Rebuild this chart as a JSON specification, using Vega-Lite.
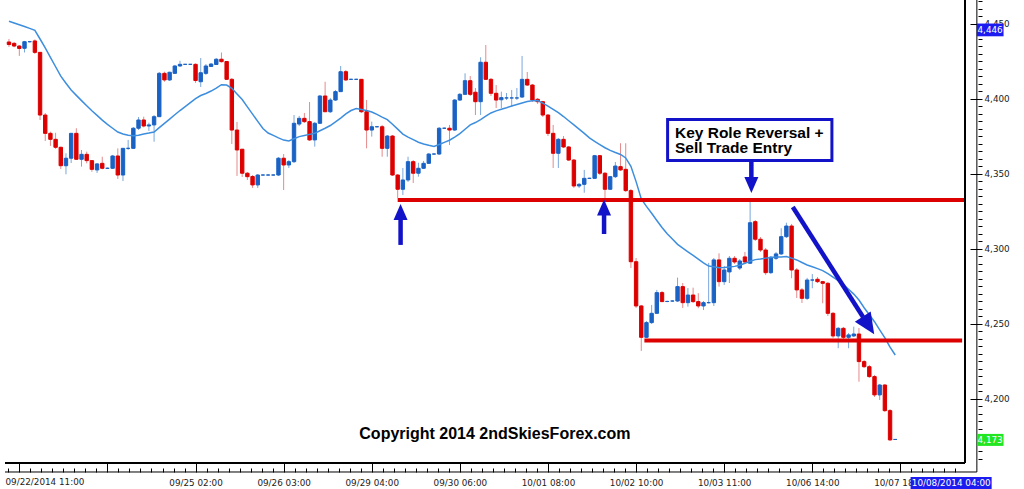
{
"$schema":"https://vega.github.io/schema/vega-lite/v6.json",
"width":970,"height":463,"autosize":"none",
"padding":{"left":0,"top":0,"right":54,"bottom":26},
"background":"#ffffff",
"config":{"view":{"stroke":null},"axis":{"labelFont":"DejaVu Sans","labelFontSize":8.8,"labelColor":"#222222","tickColor":"#000000","grid":false,"domain":false,"labelOverlap":false,"labelBound":false}},
"resolve":{"axis":{"x":"independent","y":"independent"}},
"datasets":{"candles":[
{"i":0,"o":4438.0,"h":4440.0,"l":4434.7,"c":4436.3,"e":4451.8},
{"i":1,"o":4437.1,"h":4438.0,"l":4434.5,"c":4435.3,"e":4450.7},
{"i":2,"o":4435.3,"h":4436.0,"l":4428.7,"c":4433.7,"e":4449.5},
{"i":3,"o":4433.8,"h":4438.7,"l":4431.0,"c":4438.2,"e":4448.3},
{"i":4,"o":4438.2,"h":4438.7,"l":4437.7,"c":4438.2,"e":4447.1},
{"i":5,"o":4438.7,"h":4439.7,"l":4430.0,"c":4431.1,"e":4445.8},
{"i":6,"o":4431.1,"h":4431.3,"l":4386.0,"c":4389.3,"e":4440.0},
{"i":7,"o":4389.3,"h":4390.7,"l":4372.0,"c":4377.1,"e":4434.0},
{"i":8,"o":4377.1,"h":4378.2,"l":4368.7,"c":4373.1,"e":4427.8},
{"i":9,"o":4373.1,"h":4377.5,"l":4366.7,"c":4367.8,"e":4421.5},
{"i":10,"o":4367.8,"h":4368.2,"l":4353.3,"c":4355.5,"e":4415.2},
{"i":11,"o":4355.5,"h":4363.8,"l":4349.8,"c":4360.5,"e":4410.5},
{"i":12,"o":4360.5,"h":4377.3,"l":4357.3,"c":4377.1,"e":4406.0},
{"i":13,"o":4377.1,"h":4380.5,"l":4359.3,"c":4359.8,"e":4402.4},
{"i":14,"o":4359.8,"h":4366.0,"l":4354.9,"c":4363.1,"e":4398.9},
{"i":15,"o":4363.1,"h":4364.9,"l":4357.1,"c":4358.9,"e":4395.5},
{"i":16,"o":4358.9,"h":4359.3,"l":4351.5,"c":4353.1,"e":4392.2},
{"i":17,"o":4352.7,"h":4357.3,"l":4350.7,"c":4356.7,"e":4389.1},
{"i":18,"o":4357.1,"h":4361.5,"l":4353.1,"c":4353.8,"e":4385.9},
{"i":19,"o":4353.8,"h":4354.3,"l":4353.3,"c":4353.8,"e":4383.1},
{"i":20,"o":4353.8,"h":4362.7,"l":4353.3,"c":4362.0,"e":4380.5},
{"i":21,"o":4362.0,"h":4367.1,"l":4346.7,"c":4349.3,"e":4378.0},
{"i":22,"o":4349.3,"h":4367.3,"l":4345.3,"c":4367.1,"e":4376.7},
{"i":23,"o":4367.1,"h":4372.7,"l":4366.0,"c":4367.1,"e":4375.9},
{"i":24,"o":4367.1,"h":4381.3,"l":4366.7,"c":4380.5,"e":4375.5},
{"i":25,"o":4380.5,"h":4388.0,"l":4379.3,"c":4386.0,"e":4375.9},
{"i":26,"o":4386.0,"h":4388.2,"l":4381.1,"c":4382.0,"e":4376.7},
{"i":27,"o":4382.0,"h":4384.2,"l":4378.7,"c":4382.7,"e":4377.3},
{"i":28,"o":4382.7,"h":4389.3,"l":4371.5,"c":4388.2,"e":4378.0},
{"i":29,"o":4388.2,"h":4418.0,"l":4388.0,"c":4417.1,"e":4380.9},
{"i":30,"o":4417.1,"h":4418.2,"l":4411.5,"c":4412.7,"e":4383.7},
{"i":31,"o":4412.7,"h":4418.2,"l":4412.0,"c":4417.8,"e":4386.6},
{"i":32,"o":4417.1,"h":4422.7,"l":4416.7,"c":4422.0,"e":4389.5},
{"i":33,"o":4422.0,"h":4425.5,"l":4421.5,"c":4423.1,"e":4392.3},
{"i":34,"o":4423.1,"h":4423.3,"l":4422.7,"c":4423.1,"e":4394.9},
{"i":35,"o":4423.1,"h":4423.3,"l":4422.7,"c":4423.1,"e":4397.6},
{"i":36,"o":4423.1,"h":4423.7,"l":4410.7,"c":4412.3,"e":4400.3},
{"i":37,"o":4411.5,"h":4427.3,"l":4408.0,"c":4417.5,"e":4402.3},
{"i":38,"o":4417.1,"h":4423.3,"l":4416.0,"c":4422.0,"e":4403.7},
{"i":39,"o":4421.7,"h":4424.0,"l":4421.3,"c":4423.3,"e":4405.3},
{"i":40,"o":4423.0,"h":4427.3,"l":4422.7,"c":4426.5,"e":4407.3},
{"i":41,"o":4426.5,"h":4431.0,"l":4424.3,"c":4424.9,"e":4409.5},
{"i":42,"o":4425.0,"h":4425.3,"l":4412.7,"c":4413.1,"e":4409.3},
{"i":43,"o":4413.1,"h":4414.0,"l":4370.0,"c":4379.3,"e":4407.1},
{"i":44,"o":4379.3,"h":4384.7,"l":4348.7,"c":4366.0,"e":4403.3},
{"i":45,"o":4366.5,"h":4366.7,"l":4348.0,"c":4350.5,"e":4399.6},
{"i":46,"o":4350.5,"h":4351.3,"l":4346.0,"c":4348.2,"e":4394.7},
{"i":47,"o":4348.3,"h":4349.3,"l":4340.7,"c":4342.7,"e":4389.9},
{"i":48,"o":4342.7,"h":4350.0,"l":4340.7,"c":4349.3,"e":4385.1},
{"i":49,"o":4349.3,"h":4349.7,"l":4349.0,"c":4349.3,"e":4380.3},
{"i":50,"o":4349.3,"h":4349.7,"l":4349.0,"c":4349.3,"e":4377.3},
{"i":51,"o":4349.3,"h":4349.7,"l":4349.0,"c":4349.3,"e":4375.7},
{"i":52,"o":4349.3,"h":4361.3,"l":4348.7,"c":4360.5,"e":4374.1},
{"i":53,"o":4360.5,"h":4363.3,"l":4339.3,"c":4356.0,"e":4372.6},
{"i":54,"o":4356.0,"h":4359.3,"l":4354.0,"c":4358.2,"e":4372.0},
{"i":55,"o":4358.2,"h":4389.3,"l":4357.3,"c":4383.8,"e":4373.5},
{"i":56,"o":4383.3,"h":4388.7,"l":4382.0,"c":4387.1,"e":4374.9},
{"i":57,"o":4387.1,"h":4390.7,"l":4384.0,"c":4384.9,"e":4375.7},
{"i":58,"o":4384.9,"h":4398.0,"l":4372.0,"c":4372.7,"e":4376.4},
{"i":59,"o":4372.7,"h":4384.7,"l":4368.2,"c":4383.8,"e":4377.1},
{"i":60,"o":4383.8,"h":4402.7,"l":4383.3,"c":4402.0,"e":4378.8},
{"i":61,"o":4402.0,"h":4411.5,"l":4391.3,"c":4391.5,"e":4380.5},
{"i":62,"o":4391.5,"h":4400.7,"l":4390.7,"c":4399.3,"e":4382.3},
{"i":63,"o":4399.3,"h":4406.0,"l":4398.7,"c":4404.9,"e":4384.7},
{"i":64,"o":4404.9,"h":4422.0,"l":4404.7,"c":4418.2,"e":4387.3},
{"i":65,"o":4418.2,"h":4419.3,"l":4412.0,"c":4412.7,"e":4390.1},
{"i":66,"o":4413.1,"h":4413.5,"l":4412.7,"c":4413.1,"e":4392.3},
{"i":67,"o":4413.1,"h":4413.5,"l":4412.7,"c":4413.1,"e":4393.7},
{"i":68,"o":4413.1,"h":4413.3,"l":4390.7,"c":4391.5,"e":4393.0},
{"i":69,"o":4391.5,"h":4399.3,"l":4367.1,"c":4379.3,"e":4392.3},
{"i":70,"o":4379.3,"h":4384.9,"l":4374.9,"c":4381.5,"e":4391.3},
{"i":71,"o":4381.5,"h":4382.0,"l":4381.0,"c":4381.5,"e":4389.7},
{"i":72,"o":4381.5,"h":4382.7,"l":4361.5,"c":4367.1,"e":4387.9},
{"i":73,"o":4367.1,"h":4376.0,"l":4361.5,"c":4375.3,"e":4386.2},
{"i":74,"o":4375.3,"h":4376.0,"l":4348.7,"c":4349.3,"e":4383.2},
{"i":75,"o":4349.3,"h":4350.0,"l":4334.0,"c":4339.8,"e":4379.9},
{"i":76,"o":4339.8,"h":4354.0,"l":4336.0,"c":4346.0,"e":4376.6},
{"i":77,"o":4346.0,"h":4361.5,"l":4344.7,"c":4358.2,"e":4374.6},
{"i":78,"o":4358.2,"h":4359.3,"l":4344.0,"c":4350.5,"e":4372.9},
{"i":79,"o":4350.5,"h":4357.5,"l":4348.2,"c":4353.8,"e":4371.2},
{"i":80,"o":4353.8,"h":4358.7,"l":4353.3,"c":4357.1,"e":4370.0},
{"i":81,"o":4357.1,"h":4364.0,"l":4356.7,"c":4363.3,"e":4369.1},
{"i":82,"o":4363.3,"h":4363.8,"l":4362.8,"c":4363.3,"e":4368.3},
{"i":83,"o":4363.3,"h":4381.3,"l":4362.7,"c":4380.5,"e":4369.7},
{"i":84,"o":4380.5,"h":4381.0,"l":4380.0,"c":4380.5,"e":4371.1},
{"i":85,"o":4380.5,"h":4382.7,"l":4369.3,"c":4379.3,"e":4372.5},
{"i":86,"o":4379.3,"h":4400.0,"l":4378.7,"c":4399.3,"e":4374.6},
{"i":87,"o":4399.3,"h":4404.0,"l":4398.7,"c":4403.1,"e":4376.9},
{"i":88,"o":4403.1,"h":4417.1,"l":4402.7,"c":4412.2,"e":4379.8},
{"i":89,"o":4412.2,"h":4415.3,"l":4402.0,"c":4403.1,"e":4382.7},
{"i":90,"o":4404.5,"h":4407.3,"l":4389.3,"c":4398.2,"e":4384.3},
{"i":91,"o":4398.2,"h":4427.8,"l":4389.3,"c":4424.5,"e":4386.3},
{"i":92,"o":4424.5,"h":4436.0,"l":4412.7,"c":4413.1,"e":4388.5},
{"i":93,"o":4413.1,"h":4414.0,"l":4402.0,"c":4403.8,"e":4390.7},
{"i":94,"o":4403.8,"h":4409.3,"l":4394.0,"c":4399.3,"e":4392.1},
{"i":95,"o":4399.5,"h":4404.9,"l":4394.0,"c":4400.9,"e":4393.2},
{"i":96,"o":4400.7,"h":4404.0,"l":4399.3,"c":4400.7,"e":4394.2},
{"i":97,"o":4400.7,"h":4406.0,"l":4394.7,"c":4400.7,"e":4395.3},
{"i":98,"o":4400.7,"h":4407.3,"l":4399.3,"c":4400.7,"e":4396.3},
{"i":99,"o":4401.3,"h":4428.7,"l":4400.7,"c":4413.1,"e":4397.3},
{"i":100,"o":4413.1,"h":4418.0,"l":4408.7,"c":4409.3,"e":4398.3},
{"i":101,"o":4409.3,"h":4410.0,"l":4398.0,"c":4399.3,"e":4398.9},
{"i":102,"o":4399.8,"h":4400.7,"l":4396.7,"c":4398.2,"e":4399.0},
{"i":103,"o":4398.2,"h":4398.7,"l":4388.0,"c":4389.3,"e":4397.2},
{"i":104,"o":4389.3,"h":4390.0,"l":4375.3,"c":4377.1,"e":4395.3},
{"i":105,"o":4377.1,"h":4382.7,"l":4354.0,"c":4363.8,"e":4393.1},
{"i":106,"o":4363.8,"h":4374.0,"l":4354.0,"c":4373.1,"e":4390.9},
{"i":107,"o":4373.1,"h":4375.3,"l":4367.3,"c":4368.0,"e":4388.3},
{"i":108,"o":4368.0,"h":4368.7,"l":4358.7,"c":4359.3,"e":4385.5},
{"i":109,"o":4359.3,"h":4360.0,"l":4340.7,"c":4342.0,"e":4382.7},
{"i":110,"o":4342.0,"h":4344.0,"l":4340.7,"c":4343.1,"e":4379.9},
{"i":111,"o":4343.1,"h":4352.7,"l":4337.5,"c":4347.1,"e":4377.1},
{"i":112,"o":4347.1,"h":4347.5,"l":4346.7,"c":4347.1,"e":4374.1},
{"i":113,"o":4347.1,"h":4362.7,"l":4346.7,"c":4362.2,"e":4371.7},
{"i":114,"o":4362.2,"h":4362.7,"l":4349.3,"c":4350.5,"e":4369.6},
{"i":115,"o":4350.5,"h":4351.3,"l":4333.7,"c":4339.8,"e":4367.5},
{"i":116,"o":4339.8,"h":4348.7,"l":4339.3,"c":4348.2,"e":4365.7},
{"i":117,"o":4348.2,"h":4358.0,"l":4347.3,"c":4355.3,"e":4364.3},
{"i":118,"o":4354.9,"h":4370.5,"l":4352.0,"c":4352.7,"e":4363.0},
{"i":119,"o":4353.1,"h":4370.5,"l":4338.0,"c":4338.9,"e":4360.7},
{"i":120,"o":4338.9,"h":4340.0,"l":4287.3,"c":4291.5,"e":4355.1},
{"i":121,"o":4291.5,"h":4294.0,"l":4260.7,"c":4262.0,"e":4344.9},
{"i":122,"o":4262.0,"h":4262.7,"l":4232.0,"c":4241.1,"e":4333.3},
{"i":123,"o":4241.1,"h":4252.0,"l":4240.7,"c":4250.9,"e":4328.4},
{"i":124,"o":4250.9,"h":4262.7,"l":4250.0,"c":4257.1,"e":4323.8},
{"i":125,"o":4257.1,"h":4272.7,"l":4256.7,"c":4270.9,"e":4319.0},
{"i":126,"o":4270.9,"h":4272.0,"l":4264.7,"c":4264.9,"e":4314.3},
{"i":127,"o":4265.0,"h":4265.5,"l":4264.5,"c":4265.0,"e":4310.1},
{"i":128,"o":4265.3,"h":4265.8,"l":4264.8,"c":4265.3,"e":4306.6},
{"i":129,"o":4265.3,"h":4280.9,"l":4264.7,"c":4274.9,"e":4303.1},
{"i":130,"o":4274.9,"h":4277.3,"l":4260.7,"c":4264.2,"e":4300.5},
{"i":131,"o":4264.2,"h":4274.0,"l":4261.5,"c":4269.3,"e":4298.1},
{"i":132,"o":4269.3,"h":4274.2,"l":4264.0,"c":4264.9,"e":4295.8},
{"i":133,"o":4264.9,"h":4270.5,"l":4260.5,"c":4262.0,"e":4293.3},
{"i":134,"o":4262.0,"h":4265.3,"l":4259.3,"c":4264.2,"e":4290.8},
{"i":135,"o":4264.2,"h":4290.7,"l":4263.7,"c":4264.2,"e":4288.6},
{"i":136,"o":4264.2,"h":4294.0,"l":4262.0,"c":4292.7,"e":4288.1},
{"i":137,"o":4292.7,"h":4297.1,"l":4274.9,"c":4278.2,"e":4287.5},
{"i":138,"o":4278.2,"h":4288.7,"l":4276.0,"c":4286.0,"e":4287.6},
{"i":139,"o":4284.7,"h":4295.3,"l":4277.3,"c":4293.8,"e":4288.0},
{"i":140,"o":4293.8,"h":4295.3,"l":4290.0,"c":4291.3,"e":4288.4},
{"i":141,"o":4287.3,"h":4293.3,"l":4286.0,"c":4292.0,"e":4289.2},
{"i":142,"o":4294.7,"h":4298.0,"l":4290.0,"c":4291.3,"e":4290.5},
{"i":143,"o":4290.5,"h":4332.7,"l":4290.0,"c":4317.5,"e":4291.8},
{"i":144,"o":4318.2,"h":4319.3,"l":4305.3,"c":4306.5,"e":4292.9},
{"i":145,"o":4306.5,"h":4308.0,"l":4298.0,"c":4299.3,"e":4293.3},
{"i":146,"o":4299.3,"h":4300.7,"l":4282.7,"c":4284.2,"e":4293.9},
{"i":147,"o":4284.2,"h":4295.3,"l":4283.3,"c":4294.5,"e":4294.3},
{"i":148,"o":4293.8,"h":4298.0,"l":4292.7,"c":4296.7,"e":4294.6},
{"i":149,"o":4296.7,"h":4313.8,"l":4296.0,"c":4308.2,"e":4294.7},
{"i":150,"o":4308.2,"h":4317.5,"l":4307.3,"c":4315.3,"e":4294.9},
{"i":151,"o":4315.3,"h":4316.7,"l":4280.5,"c":4286.0,"e":4293.9},
{"i":152,"o":4286.0,"h":4287.3,"l":4267.3,"c":4272.7,"e":4292.7},
{"i":153,"o":4272.7,"h":4274.0,"l":4264.0,"c":4267.1,"e":4291.0},
{"i":154,"o":4267.1,"h":4280.7,"l":4266.0,"c":4279.3,"e":4289.3},
{"i":155,"o":4279.3,"h":4283.3,"l":4273.8,"c":4279.3,"e":4288.1},
{"i":156,"o":4279.8,"h":4281.3,"l":4277.3,"c":4278.2,"e":4286.9},
{"i":157,"o":4278.2,"h":4278.7,"l":4263.8,"c":4277.1,"e":4285.6},
{"i":158,"o":4277.1,"h":4278.0,"l":4255.3,"c":4257.1,"e":4283.5},
{"i":159,"o":4257.1,"h":4258.0,"l":4240.7,"c":4242.0,"e":4281.2},
{"i":160,"o":4242.0,"h":4248.0,"l":4233.8,"c":4247.1,"e":4278.9},
{"i":161,"o":4247.1,"h":4248.0,"l":4240.0,"c":4241.1,"e":4276.3},
{"i":162,"o":4241.1,"h":4244.0,"l":4233.8,"c":4242.7,"e":4273.1},
{"i":163,"o":4242.0,"h":4248.2,"l":4241.3,"c":4243.3,"e":4269.9},
{"i":164,"o":4243.3,"h":4247.3,"l":4211.5,"c":4224.9,"e":4266.0},
{"i":165,"o":4224.9,"h":4226.0,"l":4220.7,"c":4221.5,"e":4260.8},
{"i":166,"o":4221.5,"h":4222.7,"l":4214.0,"c":4214.9,"e":4256.1},
{"i":167,"o":4214.9,"h":4216.0,"l":4201.3,"c":4202.7,"e":4251.5},
{"i":168,"o":4202.7,"h":4210.0,"l":4199.3,"c":4209.3,"e":4246.1},
{"i":169,"o":4209.3,"h":4210.0,"l":4191.3,"c":4192.2,"e":4240.7},
{"i":170,"o":4192.2,"h":4193.3,"l":4172.0,"c":4172.7,"e":4234.5},
{"i":171,"o":4173.0,"h":4173.3,"l":4172.7,"c":4173.0,"e":4229.3}
]},
"layer":[
{"data":{"name":"candles"},"mark":{"type":"rule","strokeWidth":1},
 "encoding":{
  "x":{"field":"i","type":"quantitative","scale":{"domain":[-0.764,184.46],"nice":false,"zero":false},
   "axis":{"title":null,"orient":"bottom","offset":9,"values":[2,19,36,53,70,87,104,121,138,155,172],
    "tickSize":-9,"labelPadding":15,"labelFlush":false,"labelOverlap":false,"labelBound":false,"labelAngle":0,
    "labelExpr":"datum.value == 36 ? '09/25 02:00' : datum.value == 53 ? '09/26 03:00' : datum.value == 70 ? '09/29 04:00' : datum.value == 87 ? '09/30 06:00' : datum.value == 104 ? '10/01 08:00' : datum.value == 121 ? '10/02 10:00' : datum.value == 138 ? '10/03 11:00' : datum.value == 155 ? '10/06 14:00' : datum.value == 172 ? '10/07 18:00' : ''"}},
  "y":{"field":"l","type":"quantitative","scale":{"domain":[4157.3,4466],"nice":false,"zero":false},
   "axis":{"title":null,"orient":"right","offset":12,"values":[4200,4250,4300,4350,4400,4450],
    "tickSize":-12,"labelPadding":14,"labelFlush":false,"labelOverlap":false,"labelBound":false,"labelAlign":"left","labelBaseline":"middle",
    "labelExpr":"format(datum.value, ',.0f')"}},
  "y2":{"field":"h"},
  "color":{"condition":{"test":"datum.c >= datum.o","value":"#7aa7dc"},"value":"#e58a8a"}}},
{"data":{"name":"candles"},"mark":{"type":"bar","size":3.4,"strokeWidth":1},
 "encoding":{
  "x":{"field":"i","type":"quantitative","scale":{"domain":[-0.764,184.46],"nice":false,"zero":false},
   "axis":{"title":null,"orient":"bottom","offset":9,"labels":false,"tickSize":-4,"values":[-0.125,4.125,6.25,8.375,10.5,12.625,14.75,16.875,21.125,23.25,25.375,27.5,29.625,31.75,33.875,38.125,40.25,42.375,44.5,46.625,48.75,50.875,55.125,57.25,59.375,61.5,63.625,65.75,67.875,72.125,74.25,76.375,78.5,80.625,82.75,84.875,89.125,91.25,93.375,95.5,97.625,99.75,101.875,106.125,108.25,110.375,112.5,114.625,116.75,118.875,123.125,125.25,127.375,129.5,131.625,133.75,135.875,140.125,142.25,144.375,146.5,148.625,150.75,152.875,157.125,159.25,161.375,163.5,165.625,167.75,169.875,174.125,176.25,178.375,180.5,182.625]}},
  "y":{"field":"o","type":"quantitative","scale":{"domain":[4157.3,4466],"nice":false,"zero":false},
   "axis":{"title":null,"orient":"right","offset":12,"labels":false,"tickSize":-4,"values":[4160,4165,4170,4175,4180,4185,4190,4195,4205,4210,4215,4220,4225,4230,4235,4240,4245,4255,4260,4265,4270,4275,4280,4285,4290,4295,4305,4310,4315,4320,4325,4330,4335,4340,4345,4355,4360,4365,4370,4375,4380,4385,4390,4395,4405,4410,4415,4420,4425,4430,4435,4440,4445,4455,4460,4465]}},
  "y2":{"field":"c"},
  "color":{"condition":{"test":"datum.c >= datum.o","value":"#1a62c4"},"value":"#dd0000"},
  "stroke":{"condition":{"test":"datum.c >= datum.o","value":"#1a62c4"},"value":"#dd0000"}}},
{"data":{"name":"candles"},"mark":{"type":"line","color":"#3d8ede","strokeWidth":1.5},
 "encoding":{
  "x":{"field":"i","type":"quantitative","scale":{"domain":[-0.764,184.46],"nice":false,"zero":false},"axis":null},
  "y":{"field":"e","type":"quantitative","scale":{"domain":[4157.3,4466],"nice":false,"zero":false},"axis":null}}},
{"data":{"values":[{"x":75.0,"x2":184.46,"y":4332.7},{"x":122.6,"x2":183.9,"y":4238.9}]},
 "mark":{"type":"rule","color":"#dd0000","strokeWidth":4},
 "encoding":{
  "x":{"field":"x","type":"quantitative","scale":{"domain":[-0.764,184.46],"nice":false,"zero":false},"axis":null},
  "x2":{"field":"x2"},
  "y":{"field":"y","type":"quantitative","scale":{"domain":[4157.3,4466],"nice":false,"zero":false},"axis":null}}},
{"data":{"values":[{"x":75.56,"y":4302.7,"x2":75.56,"y2":4321.3},{"x":114.82,"y":4310.0,"x2":114.82,"y2":4324.0},{"x":143.24,"y":4359.3,"x2":143.24,"y2":4346.0},{"x":151.23,"y":4328.0,"x2":164.79,"y2":4254.7}]},
 "mark":{"type":"rule","color":"#1212c8","strokeWidth":4.5},
 "encoding":{
  "x":{"field":"x","type":"quantitative","scale":{"domain":[-0.764,184.46],"nice":false,"zero":false},"axis":null},
  "x2":{"field":"x2"},
  "y":{"field":"y","type":"quantitative","scale":{"domain":[4157.3,4466],"nice":false,"zero":false},"axis":null},
  "y2":{"field":"y2"}}},
{"data":{"values":[{"x":75.56,"y":4324.7},{"x":114.82,"y":4327.7}]},
 "mark":{"type":"point","shape":"M0,-1L0.875,1L-0.875,1Z","size":256,"filled":true,"color":"#1212c8","opacity":1,"strokeWidth":0},
 "encoding":{
  "x":{"field":"x","type":"quantitative","scale":{"domain":[-0.764,184.46],"nice":false,"zero":false},"axis":null},
  "y":{"field":"y","type":"quantitative","scale":{"domain":[4157.3,4466],"nice":false,"zero":false},"axis":null}}},
{"data":{"values":[{"x":143.24,"y":4342.7}]},
 "mark":{"type":"point","shape":"M-0.875,-1L0.875,-1L0,1Z","size":256,"filled":true,"color":"#1212c8","opacity":1,"strokeWidth":0},
 "encoding":{
  "x":{"field":"x","type":"quantitative","scale":{"domain":[-0.764,184.46],"nice":false,"zero":false},"axis":null},
  "y":{"field":"y","type":"quantitative","scale":{"domain":[4157.3,4466],"nice":false,"zero":false},"axis":null}}},
{"data":{"values":[{"x":165.84,"y":4249.0}]},
 "mark":{"type":"point","shape":"M-0.9,-1L0.9,-1L0,1Z","size":441,"angle":327,"filled":true,"color":"#1212c8","opacity":1,"strokeWidth":0},
 "encoding":{
  "x":{"field":"x","type":"quantitative","scale":{"domain":[-0.764,184.46],"nice":false,"zero":false},"axis":null},
  "y":{"field":"y","type":"quantitative","scale":{"domain":[4157.3,4466],"nice":false,"zero":false},"axis":null}}},
{"data":{"values":[{"x":127.08,"x2":158.78,"y":4386.3,"y2":4359.0}]},
 "mark":{"type":"rect","fill":"#ffffff","stroke":"#1212c8","strokeWidth":3},
 "encoding":{
  "x":{"field":"x","type":"quantitative","scale":{"domain":[-0.764,184.46],"nice":false,"zero":false},"axis":null},
  "x2":{"field":"x2"},
  "y":{"field":"y","type":"quantitative","scale":{"domain":[4157.3,4466],"nice":false,"zero":false},"axis":null},
  "y2":{"field":"y2"}}},
{"data":{"values":[{"x":128.5,"y":4374.3,"t":"Key Role Reversal +"},{"x":128.5,"y":4363.7,"t":"Sell Trade Entry"}]},
 "mark":{"type":"text","align":"left","baseline":"alphabetic","font":"Liberation Sans","fontWeight":"bold","fontSize":15.5,"color":"#000000"},
 "encoding":{
  "x":{"field":"x","type":"quantitative","scale":{"domain":[-0.764,184.46],"nice":false,"zero":false},"axis":null},
  "y":{"field":"y","type":"quantitative","scale":{"domain":[4157.3,4466],"nice":false,"zero":false},"axis":null},
  "text":{"field":"t"}}},
{"data":{"values":[{"x":93.76,"y":4176.7,"t":"Copyright 2014 2ndSkiesForex.com"}]},
 "mark":{"type":"text","align":"center","baseline":"middle","font":"Liberation Sans","fontWeight":"bold","fontSize":16,"color":"#000000"},
 "encoding":{
  "x":{"field":"x","type":"quantitative","scale":{"domain":[-0.764,184.46],"nice":false,"zero":false},"axis":null},
  "y":{"field":"y","type":"quantitative","scale":{"domain":[4157.3,4466],"nice":false,"zero":false},"axis":null},
  "text":{"field":"t"}}},
{"data":{"values":[{"x":-0.668,"y":4147.3,"t":"09/22/2014 11:00"}]},
 "mark":{"type":"text","align":"left","baseline":"top","font":"DejaVu Sans","fontSize":8.8,"color":"#222222"},
 "encoding":{
  "x":{"field":"x","type":"quantitative","scale":{"domain":[-0.764,184.46],"nice":false,"zero":false},"axis":null},
  "y":{"field":"y","type":"quantitative","scale":{"domain":[4157.3,4466],"nice":false,"zero":false},"axis":null},
  "text":{"field":"t"}}},
{"data":{"values":[{"x":184.46,"x2":184.46,"y":4157.3,"y2":4466},{"x":-0.764,"x2":184.46,"y":4157.3,"y2":4157.3}]},
 "mark":{"type":"rule","color":"#000000","strokeWidth":2},
 "encoding":{
  "x":{"field":"x","type":"quantitative","scale":{"domain":[-0.764,184.46],"nice":false,"zero":false},"axis":null},
  "x2":{"field":"x2"},
  "y":{"field":"y","type":"quantitative","scale":{"domain":[4157.3,4466],"nice":false,"zero":false},"axis":null},
  "y2":{"field":"y2"}}},
{"data":{"values":[{"x":186.75,"x2":186.75,"y":4151.3,"y2":4466},{"x":-0.764,"x2":186.75,"y":4151.3,"y2":4151.3}]},
 "mark":{"type":"rule","color":"#000000","strokeWidth":1},
 "encoding":{
  "x":{"field":"x","type":"quantitative","scale":{"domain":[-0.764,184.46],"nice":false,"zero":false},"axis":null},
  "x2":{"field":"x2"},
  "y":{"field":"y","type":"quantitative","scale":{"domain":[4157.3,4466],"nice":false,"zero":false},"axis":null},
  "y2":{"field":"y2"}}},
{"data":{"values":[{"x":186.75,"x2":191.9,"y":4450.3,"y2":4441.8},{"x":173.96,"x2":189.6,"y":4148.0,"y2":4139.3}]},
 "mark":{"type":"rect","fill":"#1c1cf0"},
 "encoding":{
  "x":{"field":"x","type":"quantitative","scale":{"domain":[-0.764,184.46],"nice":false,"zero":false},"axis":null},
  "x2":{"field":"x2"},
  "y":{"field":"y","type":"quantitative","scale":{"domain":[4157.3,4466],"nice":false,"zero":false},"axis":null},
  "y2":{"field":"y2"}}},
{"data":{"values":[{"x":186.75,"x2":191.9,"y":4176.7,"y2":4168.7}]},
 "mark":{"type":"rect","fill":"#22e622"},
 "encoding":{
  "x":{"field":"x","type":"quantitative","scale":{"domain":[-0.764,184.46],"nice":false,"zero":false},"axis":null},
  "x2":{"field":"x2"},
  "y":{"field":"y","type":"quantitative","scale":{"domain":[4157.3,4466],"nice":false,"zero":false},"axis":null},
  "y2":{"field":"y2"}}},
{"data":{"values":[{"x":189.3,"y":4446.0,"t":"4,446"},{"x":189.3,"y":4172.7,"t":"4,173"},{"x":181.8,"y":4143.7,"t":"10/08/2014 04:00"}]},
 "mark":{"type":"text","align":"center","baseline":"middle","font":"DejaVu Sans","fontSize":8.8,"color":"#ffffff"},
 "encoding":{
  "x":{"field":"x","type":"quantitative","scale":{"domain":[-0.764,184.46],"nice":false,"zero":false},"axis":null},
  "y":{"field":"y","type":"quantitative","scale":{"domain":[4157.3,4466],"nice":false,"zero":false},"axis":null},
  "text":{"field":"t"}}}
]
}
